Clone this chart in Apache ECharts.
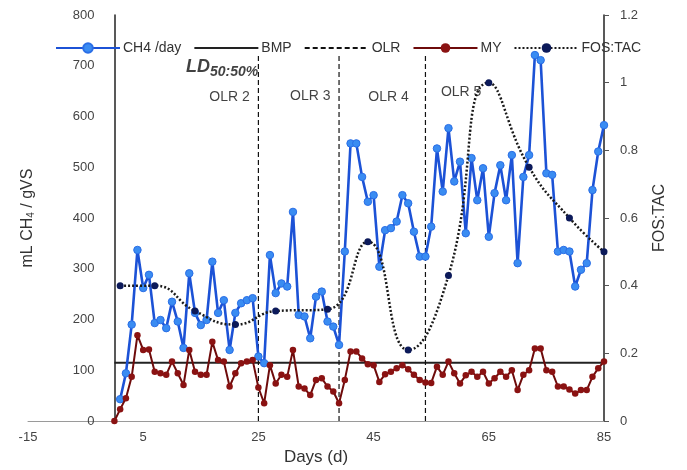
<!DOCTYPE html>
<html>
<head>
<meta charset="utf-8">
<script src="https://cdn.jsdelivr.net/npm/echarts@6/dist/echarts.min.js"></script>
<style>
  html, body { margin: 0; padding: 0; background: #fff; }
  #chart { width: 687px; height: 470px; }
</style>
</head>
<body>
<div id="chart"></div>
<script>
// CH4 per day (mL CH4/gVS), days 1..85
const ch4 = [
  43, 94, 190, 337, 262, 288, 193, 199, 183, 235,
  196, 144, 291, 213, 189, 199, 314, 213, 238, 140,
  213, 232, 238, 242, 127, 114, 327, 252, 271, 265,
  412, 209, 206, 163, 245, 255, 196, 186, 150, 334,
  547, 547, 481, 432, 445, 304, 376, 380, 393, 445,
  429, 373, 324, 324, 383, 537, 452, 577, 472, 511,
  370, 518, 435, 498, 363, 449, 504, 435, 524, 311,
  481, 524, 721, 711, 488, 485, 334, 337, 334, 265,
  298, 311, 455, 531, 583
];
// methane yield, days 0..85
const my = [
  0, 23, 45, 87, 169, 140, 141, 97, 94, 91,
  117, 94, 71, 140, 97, 91, 91, 156, 120, 117,
  68, 94, 114, 117, 120, 66, 35, 110, 74, 91,
  87, 140, 68, 64, 51, 81, 84, 68, 58, 35,
  81, 137, 137, 123, 112, 110, 77, 92, 97, 104,
  110, 102, 91, 81, 76, 75, 107, 91, 117, 94,
  74, 90, 97, 87, 97, 74, 84, 97, 87, 100,
  61, 91, 100, 143, 143, 100, 97, 68, 68, 62,
  54, 61, 61, 87, 104, 117
];
const fosDays = [1, 7, 14, 21, 28, 37, 44, 51, 58, 65, 72, 79, 85];
const fosTac = [0.40, 0.40, 0.325, 0.285, 0.325, 0.33, 0.53, 0.21, 0.43, 1.0, 0.75, 0.60, 0.50];

const bmpValue = 115;
const bmpDays = [0, 85];
const olrDays = [25, 39, 54];
const olrTop = 720;

const xTicks = [-15, 5, 25, 45, 65, 85];

// text annotations [day, value, text]
const olrLabels = [
  [20, 638, 'OLR 2'],
  [34, 640, 'OLR 3'],
  [47.6, 638, 'OLR 4'],
  [60.2, 648, 'OLR 5']
];
const ldLabel = [18.7, 697];

const chart = echarts.init(document.getElementById('chart'));
const gridLeft = 28;

const olrSeries = olrDays.map(function (d) {
  return {
    name: 'OLR',
    type: 'line',
    yAxisIndex: 0,
    symbol: 'none',
    data: [[d, 0], [d, olrTop]],
    lineStyle: { color: '#111', width: 1.2, type: [5, 3] },
    itemStyle: { color: '#111' },
    z: 2
  };
});

const noDot = { color: 'rgba(0,0,0,0)', borderWidth: 0 };

const option = {
  backgroundColor: '#fff',
  animation: false,
  textStyle: { fontFamily: 'Liberation Sans, Arial, sans-serif' },
  legend: {
    data: [
      'CH4 /day',
      { name: 'BMP', itemStyle: noDot },
      { name: 'OLR', itemStyle: noDot },
      'MY',
      'FOS:TAC'
    ],
    left: 50,
    top: 36,
    itemWidth: 64,
    itemHeight: 12,
    itemGap: 12,
    textStyle: { fontSize: 14, color: '#333', padding: [0, 0, 0, -2] }
  },
  grid: { left: gridLeft, right: 83, top: 15, bottom: 49, outerBoundsMode: 'none', containLabel: false },
  xAxis: {
    type: 'value',
    min: -15,
    max: 85,
    name: 'Days (d)',
    nameLocation: 'middle',
    nameGap: 27,
    nameTextStyle: { fontSize: 17, color: '#333' },
    axisLine: { onZero: false, lineStyle: { color: '#9a9a9a', width: 1 } },
    axisTick: { show: false },
    splitLine: { show: false },
    axisLabel: { customValues: xTicks, fontSize: 13, color: '#444', margin: 10 }
  },
  yAxis: [
    {
      type: 'value',
      min: 0,
      max: 800,
      interval: 100,
      name: '{n|mL CH}{s|4}{n| / gVS}',
      nameLocation: 'middle',
      nameGap: 78,
      nameTextStyle: {
        rich: {
          n: { fontSize: 16, color: '#333' },
          s: { fontSize: 10, color: '#333', padding: [8, 0, 0, 0] }
        }
      },
      axisLine: { show: true, onZero: false, lineStyle: { color: '#222', width: 1.5 } },
      axisTick: { show: false },
      splitLine: { show: false },
      axisLabel: { fontSize: 13, color: '#444', margin: 20 }
    },
    {
      type: 'value',
      min: 0,
      max: 1.2,
      interval: 0.2,
      position: 'right',
      name: 'FOS:TAC',
      nameLocation: 'middle',
      nameGap: 48,
      nameTextStyle: { fontSize: 16, color: '#333' },
      axisLine: { show: true, onZero: false, lineStyle: { color: '#222', width: 1.5 } },
      axisTick: { show: true, length: 5, lineStyle: { color: '#555' } },
      splitLine: { show: false },
      axisLabel: { fontSize: 13, color: '#444', margin: 16 }
    }
  ],
  series: [
    {
      name: 'BMP',
      type: 'line',
      symbol: 'none',
      data: bmpDays.map(function (d) { return [d, bmpValue]; }),
      lineStyle: { color: '#222', width: 2 },
      itemStyle: { color: '#222' },
      z: 2
    }
  ].concat(olrSeries).concat([
    {
      name: 'CH4 /day',
      type: 'line',
      data: ch4.map(function (v, i) { return [i + 1, v]; }),
      symbol: 'circle',
      symbolSize: 7.5,
      lineStyle: { color: '#1c52d6', width: 2.6 },
      itemStyle: { color: '#3a8cf2', borderColor: '#2a6ee6', borderWidth: 1 },
      z: 3
    },
    {
      name: 'MY',
      type: 'line',
      data: my.map(function (v, i) { return [i, v]; }),
      symbol: 'circle',
      symbolSize: 6.5,
      lineStyle: { color: '#6e0b0b', width: 2 },
      itemStyle: { color: '#8a1212' },
      z: 4
    },
    {
      name: 'FOS:TAC',
      type: 'line',
      yAxisIndex: 1,
      smooth: true,
      data: fosDays.map(function (d, i) { return [d, fosTac[i]]; }),
      symbol: 'circle',
      symbolSize: 7,
      lineStyle: { color: '#1a1a1a', width: 2.5, type: [2, 2] },
      itemStyle: { color: '#0c1a5a' },
      z: 5
    },
    {
      name: 'labels',
      type: 'scatter',
      silent: true,
      symbolSize: 1,
      itemStyle: { color: 'rgba(0,0,0,0)' },
      data: olrLabels.map(function (o) { return { value: [o[0], o[1]], name: o[2] }; }),
      label: {
        show: true,
        position: 'inside',
        formatter: '{b}',
        fontSize: 14,
        color: '#111'
      },
      z: 6
    },
    {
      name: 'ld',
      type: 'scatter',
      silent: true,
      symbolSize: 1,
      itemStyle: { color: 'rgba(0,0,0,0)' },
      data: [ldLabel],
      label: {
        show: true,
        position: 'inside',
        formatter: '{a|LD}{b|50:50%}',
        rich: {
          a: { fontSize: 18, fontWeight: 'bold', fontStyle: 'italic', color: '#111' },
          b: { fontSize: 14, fontWeight: 'bold', fontStyle: 'italic', color: '#111', padding: [9, 0, 0, 0] }
        }
      },
      z: 6
    }
  ])
};

chart.setOption(option);

// move the left value axis so it crosses the day axis at day 0
const zeroX = chart.convertToPixel({ xAxisIndex: 0 }, 0);
chart.setOption({ yAxis: [{ offset: gridLeft - zeroX }, {}] });
</script>
</body>
</html>
